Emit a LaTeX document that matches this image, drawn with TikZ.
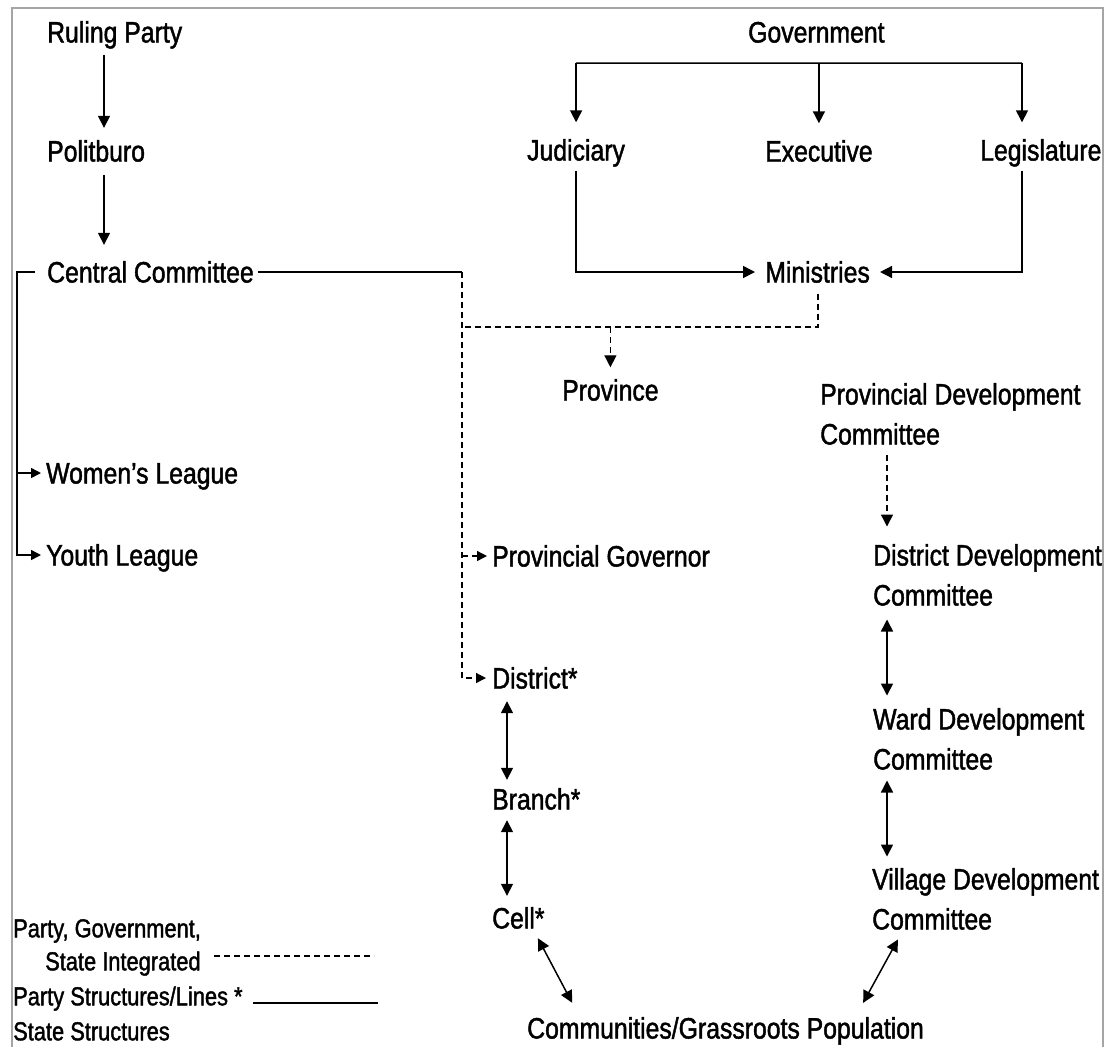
\documentclass[tikz,border=0pt]{standalone}
\usepackage{fontspec}
\setmainfont{Liberation Sans}[FakeStretch=0.84,FakeBold=1.5]
\usetikzlibrary{arrows.meta,calc}
\definecolor{framegray}{RGB}{165,165,165}
\begin{document}
\begin{tikzpicture}[x=1pt,y=-1pt,
  lbl/.style={anchor=west,inner sep=0pt,text height=21pt,text depth=0pt,font=\fontsize{29.5}{40}\selectfont},
  legend/.style={anchor=west,inner sep=0pt,text height=18.6pt,text depth=0pt,font=\fontsize{26}{32}\selectfont},
  mlbl/.style={anchor=base west,inner sep=0pt,text width=290pt,align=flush left,font=\fontsize{29.5}{40}\selectfont},
  conn/.style={line width=1.5pt,black},
  arr/.style={conn,-{Triangle[width=12pt,length=12pt]}},
  sarr/.style={conn,-{Triangle[width=10pt,length=10pt]}},
  darr/.style={conn,{Triangle[width=12pt,length=12pt]}-{Triangle[width=12pt,length=12pt]}},
  dsh/.style={dash pattern=on 6pt off 4pt,line width=1.3pt}
]
\useasboundingbox (0,0) rectangle (1107,1047);
% frame
\draw[framegray,line width=1.5pt] (12,1047) -- (12,8) -- (1103,8) -- (1103,1047);

% party column
\node[lbl] (rp) at (47,32) {Ruling Party};
\node[lbl] (pb) at (47,151) {Politburo};
\node[lbl] (cc) at (47,272) {Central Committee};
\node[lbl] (wl) at (46,473) {Women's League};
\node[lbl] (yl) at (46,555) {Youth League};

% government
\node[lbl] (gov) at (748,32) {Government};
\node[lbl] (jud) at (527,150) {Judiciary};
\node[lbl] (exe) at (765,151) {Executive};
\node[lbl] (leg) at (980,150) {Legislature};
\node[lbl] (min) at (765,272) {Ministries};
\node[lbl] (prov) at (562,390) {Province};

% middle column
\node[lbl] (pg) at (492,556) {Provincial Governor};
\node[lbl] (dist) at (492,678) {District*};
\node[lbl] (br) at (492,799) {Branch*};
\node[lbl] (cell) at (492,918) {Cell*};
\node[lbl] (com) at (527,1028) {Communities/Grassroots Population};

% right column
\node[mlbl] (pdc) at (820,404.5) {Provincial Development\\Committee};
\node[mlbl] (ddc) at (873,565.5) {District Development\\Committee};
\node[mlbl] (wdc) at (873,729.5) {Ward Development\\Committee};
\node[mlbl] (vdc) at (872,889.5) {Village Development\\Committee};

% legend
\node[legend] (lg1) at (13,928) {Party, Government,};
\node[legend] (lg2) at (45,961) {State Integrated};
\node[legend] (lg3) at (13,996) {Party Structures/Lines *};
\node[legend] (lg4) at (13,1031) {State Structures};
\draw[dsh] ([xshift=13pt,yshift=5pt]lg2.east) -- ++(160,0);
\draw[conn,line width=1.3pt] ([xshift=10pt,yshift=-7pt]lg3.east) -- ++(125,0);

% party chain
\coordinate (px) at (104,0);
\draw[arr,shorten <=12.5pt,shorten >=12.5pt] (rp.south -| px) -- (pb.north -| px);
\draw[arr,shorten <=13.5pt,shorten >=16.5pt] (pb.south -| px) -- (cc.north -| px);
\coordinate (lb) at (17,272);
\draw[sarr,shorten >=5pt] ([xshift=-12pt]cc.west) -- (lb) |- (yl.west);
\draw[sarr,shorten >=5pt] (lb |- wl.west) -- (wl.west);

% central committee to integrated line
\coordinate (dtop) at (462,272);
\draw[conn] ([xshift=4pt]cc.east) -- (dtop);
\draw[sarr,dsh,shorten >=6pt] (dtop) |- (dist.west);
\draw[sarr,dsh,shorten >=5pt] (dtop |- pg.west) -- (pg.west);

% government
\coordinate (gbar) at ([yshift=-20.5pt]gov.south);
\coordinate (lx) at (1022,63);
\draw[conn] (jud.north |- gbar) -- (lx);
\draw[arr,shorten >=17pt] (jud.north |- gbar) -- (jud.north);
\draw[arr,shorten >=17pt] (exe.north |- gbar) -- (exe.north);
\draw[arr,shorten >=17pt] (lx) -- (lx |- leg.north);
\draw[arr,shorten <=10pt,shorten >=10pt] (jud.south) |- (min.west);
\draw[arr,shorten <=10pt,shorten >=10pt] (lx |- leg.south) |- (min.east);

% ministries to province
\coordinate (mj) at (818,327);
\draw[dsh,shorten <=11pt] (min.south -| mj) -- (mj) -- (dtop |- mj);
\draw[arr,dsh,shorten >=12pt] (prov.north |- mj) -- (prov.north);

% right column
\coordinate (rx) at (887,0);
\draw[arr,dsh,shorten <=10.5pt,shorten >=17.4pt] (pdc.south -| rx) -- (ddc.north -| rx);
\draw[darr,shorten <=13.5pt,shorten >=12.4pt] (ddc.south -| rx) -- (wdc.north -| rx);
\draw[darr,shorten <=10.5pt,shorten >=11.4pt] (wdc.south -| rx) -- (vdc.north -| rx);

% middle column
\coordinate (mx) at (507,0);
\draw[darr,shorten <=12.5pt,shorten >=8.5pt] (dist.south -| mx) -- (br.north -| mx);
\draw[darr,shorten <=10.5pt,shorten >=11.5pt] (br.south -| mx) -- (cell.north -| mx);

% to grassroots
\coordinate (c1) at (532.9,0);
\coordinate (c2) at (579.8,0);
\draw[darr,shorten <=10.8pt,shorten >=16.5pt] (cell.south -| c1) -- (com.north -| c2);
\coordinate (v1) at (903.1,0);
\coordinate (v2) at (855.2,0);
\draw[darr,shorten <=10.8pt,shorten >=16.5pt] (vdc.south -| v1) -- (com.north -| v2);
\end{tikzpicture}
\end{document}
